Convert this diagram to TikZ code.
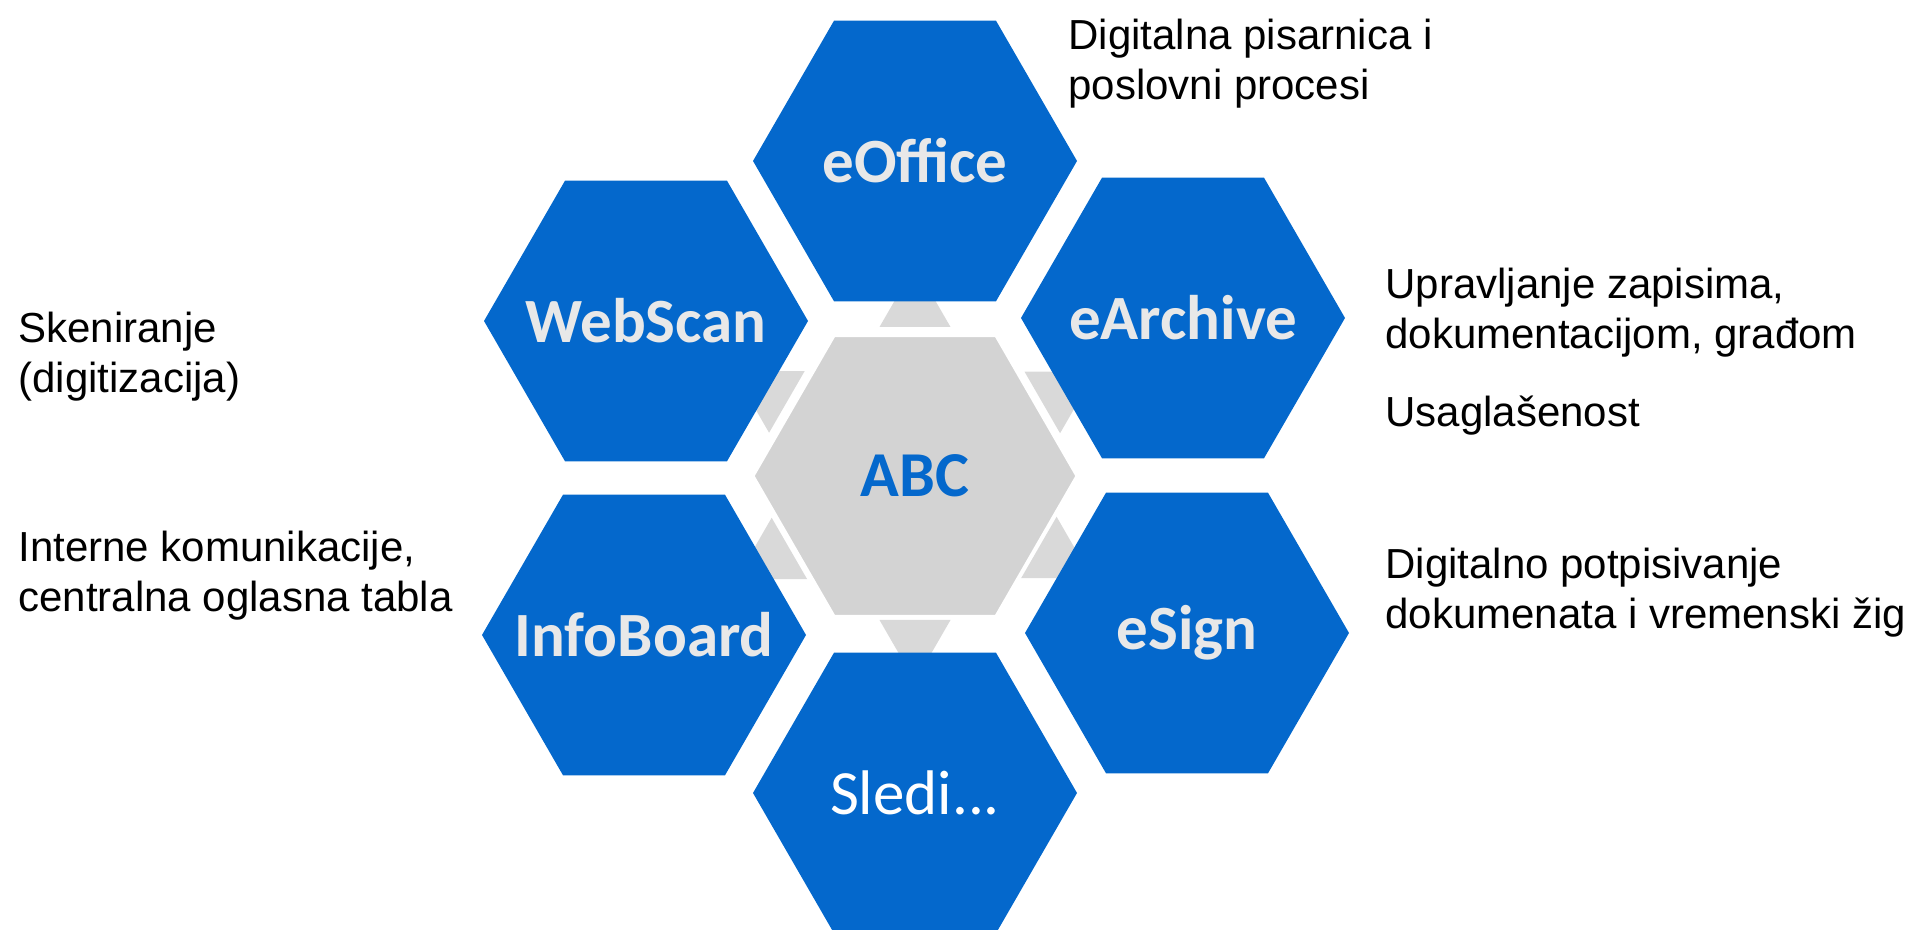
\documentclass[tikz,border=0pt]{standalone}
\usepackage{fontspec}
\setmainfont{Liberation Sans}
\newfontfamily\calibri{Carlito}
\usetikzlibrary{shapes.geometric,calc}
\definecolor{hexblue}{HTML}{0468CC}
\definecolor{hexlabel}{HTML}{E8E8E8}
\definecolor{centergray}{HTML}{D3D3D3}
\definecolor{trigray}{HTML}{D9D9D9}
\tikzset{
  hexa/.style={regular polygon, regular polygon sides=6, minimum size=162pt,
    inner sep=0pt, outer sep=0pt, fill=hexblue, draw=none},
  centerhex/.style={regular polygon, regular polygon sides=6, minimum size=162pt,
    inner sep=0pt, outer sep=0pt, fill=centergray, draw=white, line width=1.5pt},
  tri/.style={regular polygon, regular polygon sides=3, minimum size=41pt,
    inner sep=0pt, outer sep=0pt, fill=trigray, draw=none},
  hexlabel/.style={font=\calibri\bfseries\fontsize{31.5}{36}\selectfont, text=hexlabel, inner sep=0pt},
  desc/.style={font=\fontsize{21}{25}\selectfont, align=left, anchor=base west, inner sep=0pt, text=black}
}
\begin{document}
\begin{tikzpicture}[x=0.5pt,y=0.5pt]
\useasboundingbox (0,0) rectangle (1917,930);
\coordinate (c) at (915,454);
% small triangles
\node[tri, rotate=0]   (t1) at ($(c)+(90:169.5)$) {};
\node[tri, rotate=60]  (t2) at ($(c)+(150:168.5)$) {};
\node[tri, rotate=-60] (t3) at ($(c)+(30:167.5)$) {};
\node[tri, rotate=120] (t4) at ($(c)+(210:165.5)$) {};
\node[tri, rotate=180] (t5) at ($(c)+(270:164.5)$) {};
\node[tri, rotate=240] (t6) at ($(c)+(330:163.5)$) {};
% center
\node[centerhex] (abc) at (c) {};
\node[font=\calibri\bfseries\fontsize{32}{36}\selectfont, text=hexblue, inner sep=0pt] (abcl) at (abc) {ABC};
% outer hexagons
\node[hexa] (eoffice) at (915,769) {};
\node[hexa] (webscan) at (646,609) {};
\node[hexa] (earchive) at (1183,612) {};
\node[hexa] (infoboard) at (644,295) {};
\node[hexa] (esign) at (1187,297) {};
\node[hexa] (sledi) at (915,137) {};
\node[hexlabel] (eofficel) at (eoffice) {eOffice};
\node[hexlabel] (webscanl) at (webscan) {WebScan};
\node[hexlabel] (earchivel) at (earchive) {eArchive};
\node[hexlabel] (infoboardl) at (infoboard) {InfoBoard};
\node[hexlabel] (esignl) at (esign) {eSign};
\node[font=\calibri\fontsize{31.5}{36}\selectfont, text=white, inner sep=0pt] (sledil) at (sledi) {Sledi...};
% descriptions (anchor at baseline of last line)
\node[desc] (d1) at (1068,830) {Digitalna pisarnica i\\poslovni procesi};
\node[desc] (d2) at (1385,581) {Upravljanje zapisima,\\dokumentacijom, građom};
\node[desc] (d3) at (1385,503) {Usaglašenost};
\node[desc] (d4) at (1385,301) {Digitalno potpisivanje\\dokumenata i vremenski žig};
\node[desc] (d5) at (18,537) {Skeniranje\\(digitizacija)};
\node[desc] (d6) at (18,318) {Interne komunikacije,\\centralna oglasna tabla};
\end{tikzpicture}
\end{document}
